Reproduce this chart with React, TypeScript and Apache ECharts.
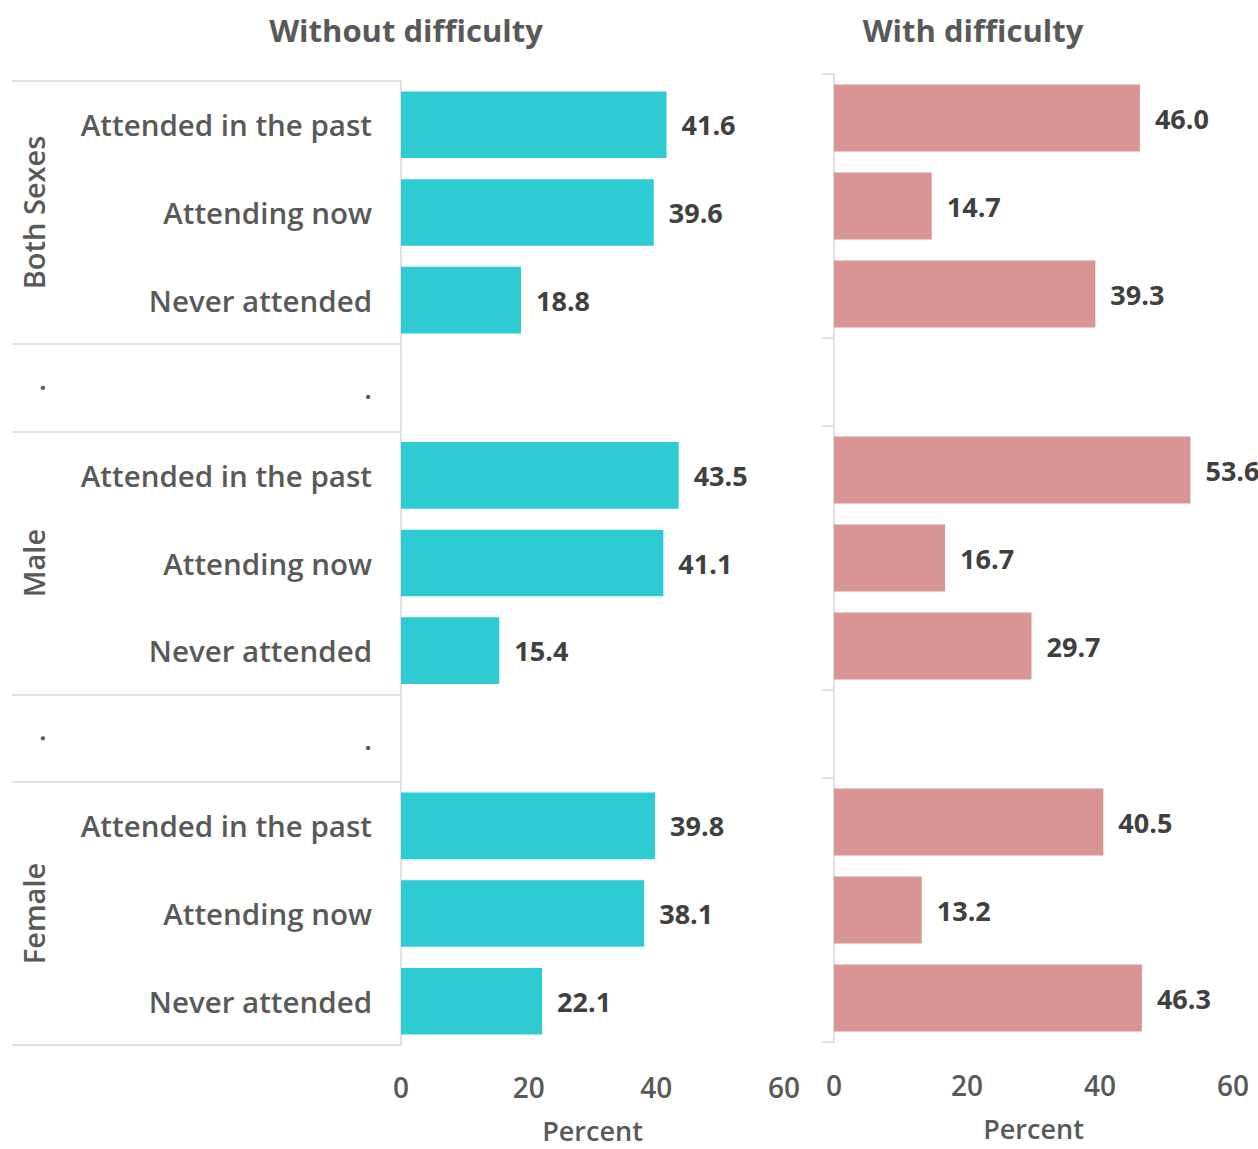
import React, { useEffect, useRef } from "react";
import * as echarts from "echarts";

const groups = ["Both Sexes", "Male", "Female"];
const statuses = ["Attended in the past", "Attending now", "Never attended"];
const spacerLabel = ".";

const bothWithout = [41.6, 39.6, 18.8];
const maleWithout = [43.5, 41.1, 15.4];
const femaleWithout = [39.8, 38.1, 22.1];

const bothWith = [46.0, 14.7, 39.3];
const maleWith = [53.6, 16.7, 29.7];
const femaleWith = [40.5, 13.2, 46.3];

const xTicks = [0, 20, 40, 60];
const panelTitles = ["Without difficulty", "With difficulty"];
const axisName = "Percent";

const FONT = "'Open Sans', 'DejaVu Sans', sans-serif";
const GRAY = "#595959";
const LINE = "#d9d9d9";
const TEAL = "#2ECBD3";
const PINK = "#D99594";

function buildRows(valuesByGroup: number[][]) {
  const keys: string[] = [];
  const catLabels: string[] = [];
  const groupLabels: string[] = [];
  const values: (number | string)[] = [];
  groups.forEach((g, gi) => {
    statuses.forEach((s, si) => {
      keys.push(g + "|" + s);
      catLabels.push(s);
      groupLabels.push(si === 1 ? g : "");
      values.push(valuesByGroup[gi][si]);
    });
    if (gi < groups.length - 1) {
      keys.push(g + "|spacer");
      catLabels.push(spacerLabel);
      groupLabels.push(spacerLabel);
      values.push("-");
    }
  });
  return { keys, catLabels, groupLabels, values };
}

export default function App() {
  const ref = useRef<HTMLDivElement>(null);
  useEffect(() => {
    if (!ref.current) return;
    const chart = echarts.init(ref.current, undefined, { renderer: "svg" });
    const left = buildRows([bothWithout, maleWithout, femaleWithout]);
    const right = buildRows([bothWith, maleWith, femaleWith]);
    // ticks at the boundaries of each group block
    const boundaryStarts = new Set<number>();
    let idx = 0;
    groups.forEach((g, gi) => {
      boundaryStarts.add(idx);
      idx += statuses.length;
      if (gi < groups.length - 1) {
        boundaryStarts.add(idx);
        idx += 1;
      }
    });
    const tickFn = (i: number) => boundaryStarts.has(i);

    const valueLabel = {
      show: true,
      position: "right",
      distance: 15,
      formatter: (p: any) => Number(p.value).toFixed(1),
      fontFamily: FONT,
      fontWeight: "bold",
      fontSize: 27,
      color: "#404040",
    };
    const xAxisBase = (gridIndex: number, nameGap: number, margin: number) => ({
      gridIndex,
      type: "value",
      min: xTicks[0],
      max: xTicks[xTicks.length - 1],
      interval: xTicks[1] - xTicks[0],
      axisLine: { show: false },
      axisTick: { show: false },
      splitLine: { show: false },
      axisLabel: {
        margin,
        fontFamily: FONT,
        fontWeight: 600,
        fontSize: 28,
        color: GRAY,
        showMaxLabel: true,
        showMinLabel: true,
      },
      name: axisName,
      nameLocation: "middle",
      nameGap,
      nameTextStyle: { fontFamily: FONT, fontWeight: 600, fontSize: 27, color: GRAY },
    });

    chart.setOption({
      animation: false,
      backgroundColor: "#ffffff",
      title: [
        {
          text: panelTitles[0],
          left: 401,
          top: 9,
          textAlign: "center",
          textStyle: { fontFamily: FONT, fontWeight: "bold", fontSize: 31, color: GRAY },
        },
        {
          text: panelTitles[1],
          left: 968,
          top: 9,
          textAlign: "center",
          textStyle: { fontFamily: FONT, fontWeight: "bold", fontSize: 31, color: GRAY },
        },
      ],
      grid: [
        { left: 401, top: 81, width: 383, height: 964, containLabel: false, outerBoundsMode: "none" },
        { left: 834, top: 74, width: 399, height: 968, containLabel: false, outerBoundsMode: "none" },
      ],
      xAxis: [xAxisBase(0, 72, 28), xAxisBase(1, 73, 29)],
      yAxis: [
        {
          gridIndex: 0,
          type: "category",
          data: left.keys,
          inverse: true,
          axisLine: { show: true, lineStyle: { color: LINE, width: 1.5 } },
          axisTick: { show: true, length: 389, interval: tickFn, lineStyle: { color: LINE, width: 1.5 } },
          axisLabel: {
            interval: 0,
            margin: 29,
            formatter: (_v: string, i: number) => left.catLabels[i],
            fontFamily: FONT,
            fontWeight: 600,
            fontSize: 29.5,
            color: GRAY,
          },
        },
        {
          gridIndex: 0,
          type: "category",
          data: left.keys,
          inverse: true,
          position: "left",
          axisLine: { show: false },
          axisTick: { show: false },
          axisLabel: {
            interval: 0,
            rotate: 90,
            margin: 353,
            formatter: (_v: string, i: number) => left.groupLabels[i],
            fontFamily: FONT,
            fontWeight: 600,
            fontSize: 29,
            color: GRAY,
          },
        },
        {
          gridIndex: 1,
          type: "category",
          data: right.keys,
          inverse: true,
          axisLine: { show: true, lineStyle: { color: LINE, width: 1.5 } },
          axisTick: { show: true, length: 12, interval: tickFn, lineStyle: { color: LINE, width: 1.5 } },
          axisLabel: { show: false },
        },
      ],
      series: [
        {
          type: "bar",
          xAxisIndex: 0,
          yAxisIndex: 0,
          data: left.values,
          barCategoryGap: "24%",
          itemStyle: { color: TEAL },
          label: valueLabel,
        },
        {
          type: "bar",
          xAxisIndex: 1,
          yAxisIndex: 2,
          data: right.values,
          barCategoryGap: "24%",
          itemStyle: { color: PINK },
          label: valueLabel,
        },
      ],
    });
    return () => chart.dispose();
  }, []);
  return (
    <div
      ref={ref}
      style={{ position: "fixed", left: 0, top: 0, width: 1258, height: 1149, background: "#fff" }}
    />
  );
}
